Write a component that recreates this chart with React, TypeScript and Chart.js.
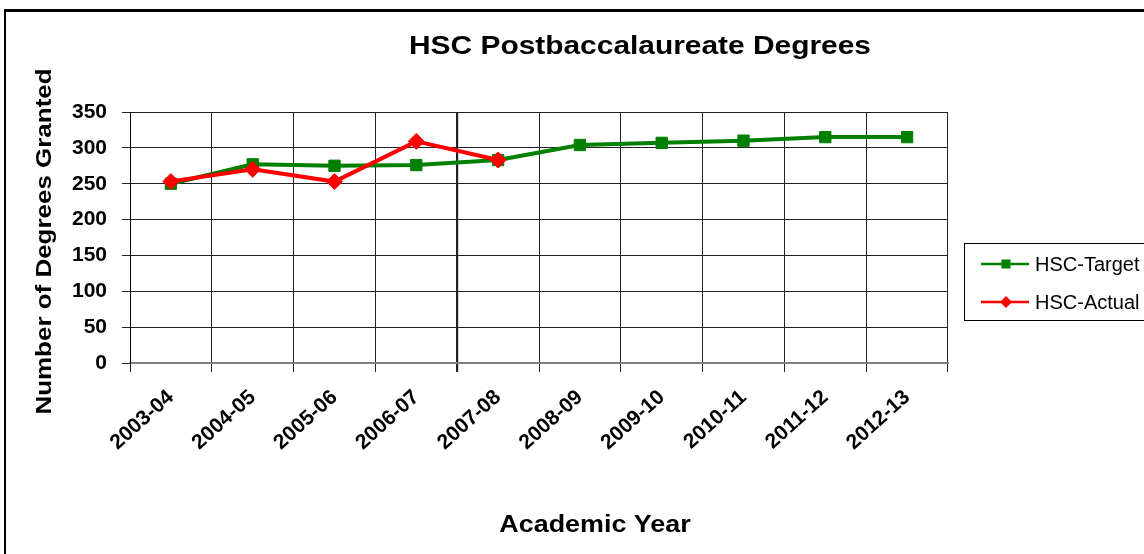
import React, { useEffect, useRef } from "react";
import { Chart, registerables } from "chart.js";

Chart.register(...registerables);

const categories = ["2003-04", "2004-05", "2005-06", "2006-07", "2007-08", "2008-09", "2009-10", "2010-11", "2011-12", "2012-13"];
const targetValues = [250, 277, 275, 276, 283, 304, 307, 310, 315, 315];
const actualValues = [253, 270, 253, 309, 283];
const yTicks = [0, 50, 100, 150, 200, 250, 300, 350];
const titleText = "HSC Postbaccalaureate Degrees";
const xTitleText = "Academic Year";
const yTitleText = "Number of Degrees Granted";
const seriesNames = ["HSC-Target", "HSC-Actual"];

const FONT = "'Liberation Sans', Arial, sans-serif";
const GREEN = "#008000";
const RED = "#FF0000";

function drawText(
  ctx: CanvasRenderingContext2D,
  text: string,
  x: number,
  y: number,
  font: string,
  sx: number,
  rot: number,
  align: CanvasTextAlign,
  baseline: CanvasTextBaseline
) {
  ctx.save();
  ctx.translate(x, y);
  ctx.rotate(rot);
  ctx.scale(sx, 1);
  ctx.font = font;
  ctx.fillStyle = "#000";
  ctx.textAlign = align;
  ctx.textBaseline = baseline;
  ctx.fillText(text, 0, 0);
  ctx.restore();
}

const decorPlugin = {
  id: "decor",
  beforeDraw(chart: any) {
    const ctx = chart.ctx as CanvasRenderingContext2D;
    ctx.save();
    ctx.fillStyle = "#fff";
    ctx.fillRect(0, 0, chart.width, chart.height);
    ctx.restore();
  },
  afterDraw(chart: any) {
    const ctx = chart.ctx as CanvasRenderingContext2D;
    // frame
    ctx.save();
    ctx.strokeStyle = "#000";
    ctx.lineWidth = 3;
    ctx.beginPath();
    ctx.moveTo(4, 10.5);
    ctx.lineTo(chart.width + 5, 10.5);
    ctx.stroke();
    ctx.lineWidth = 2;
    ctx.beginPath();
    ctx.moveTo(5, 10);
    ctx.lineTo(5, chart.height + 5);
    ctx.stroke();
    ctx.restore();

    // titles
    drawText(ctx, titleText, 640, 54, `bold 26px ${FONT}`, 1.15, 0, "center", "alphabetic");
    drawText(ctx, xTitleText, 595, 532, `bold 24px ${FONT}`, 1.12, 0, "center", "alphabetic");
    drawText(ctx, yTitleText, 51, 241.5, `bold 22px ${FONT}`, 1.18, -Math.PI / 2, "center", "alphabetic");

    // legend
    ctx.save();
    ctx.strokeStyle = "#000";
    ctx.lineWidth = 1;
    ctx.strokeRect(964.5, 243.5, 200, 77);
    const rows = [
      { y: 264, color: GREEN, marker: "square", name: seriesNames[0] },
      { y: 302, color: RED, marker: "diamond", name: seriesNames[1] },
    ];
    rows.forEach((r) => {
      ctx.strokeStyle = r.color;
      ctx.fillStyle = r.color;
      ctx.lineWidth = 2.5;
      ctx.beginPath();
      ctx.moveTo(981, r.y);
      ctx.lineTo(1029, r.y);
      ctx.stroke();
      ctx.beginPath();
      if (r.marker === "square") {
        ctx.rect(1001.5, r.y - 4.5, 9, 9);
      } else {
        ctx.moveTo(1006, r.y - 6);
        ctx.lineTo(1012, r.y);
        ctx.lineTo(1006, r.y + 6);
        ctx.lineTo(1000, r.y);
        ctx.closePath();
      }
      ctx.fill();
      drawText(ctx, r.name, 1035, r.y + 1, `20px ${FONT}`, 1.0, 0, "left", "middle");
    });
    ctx.restore();
  },
};

export default function App() {
  const ref = useRef<HTMLCanvasElement | null>(null);
  useEffect(() => {
    if (!ref.current) return;
    const chart = new Chart(ref.current, {
      type: "line",
      data: {
        labels: categories,
        datasets: [
          {
            label: seriesNames[1],
            data: actualValues,
            borderColor: RED,
            backgroundColor: RED,
            borderWidth: 4,
            pointStyle: "rectRot",
            pointRadius: 8,
            pointBorderWidth: 1,
            pointBorderColor: RED,
            pointBackgroundColor: RED,
            tension: 0,
            order: 0,
          },
          {
            label: seriesNames[0],
            data: targetValues,
            borderColor: GREEN,
            backgroundColor: GREEN,
            borderWidth: 4,
            pointStyle: "rect",
            pointRadius: 8,
            pointBorderWidth: 1,
            pointBorderColor: GREEN,
            pointBackgroundColor: GREEN,
            tension: 0,
            order: 1,
          },
        ],
      },
      options: {
        responsive: false,
        animation: false,
        layout: { padding: { top: 112, right: 196, left: 0, bottom: 0 } },
        plugins: {
          legend: { display: false },
          title: { display: false },
          tooltip: { enabled: false },
        },
        scales: {
          x: {
            type: "category",
            offset: true,
            grid: {
              offset: true,
              color: "#222",
              lineWidth: (c: any) => (c.index === 4 ? 2.2 : 1),
              tickLength: 9,
              drawTicks: true,
            },
            border: { color: "#808080", width: 2 },
            ticks: {
              color: "#000",
              font: { family: FONT, size: 21, weight: "bold" },
              minRotation: 42,
              maxRotation: 42,
              autoSkip: false,
              padding: 13,
            },
            afterFit: (s: any) => {
              s.height = 191;
            },
          },
          y: {
            min: 0,
            max: 350,
            afterBuildTicks: (s: any) => {
              s.ticks = yTicks.map((v) => ({ value: v }));
            },
            grid: { color: "#222", lineWidth: 1, tickLength: 8 },
            border: { color: "#000", width: 1 },
            ticks: {
              color: "#000",
              font: { family: FONT, size: 21, weight: "bold" },
              padding: 15,
            },
            afterFit: (s: any) => {
              s.width = 130;
            },
          },
        },
      },
      plugins: [decorPlugin],
    } as any);
    return () => chart.destroy();
  }, []);
  return (
    <div style={{ position: "fixed", left: 0, top: 0, width: 1144, height: 554, background: "#fff" }}>
      <canvas ref={ref} width={1144} height={554} style={{ display: "block" }} />
    </div>
  );
}
